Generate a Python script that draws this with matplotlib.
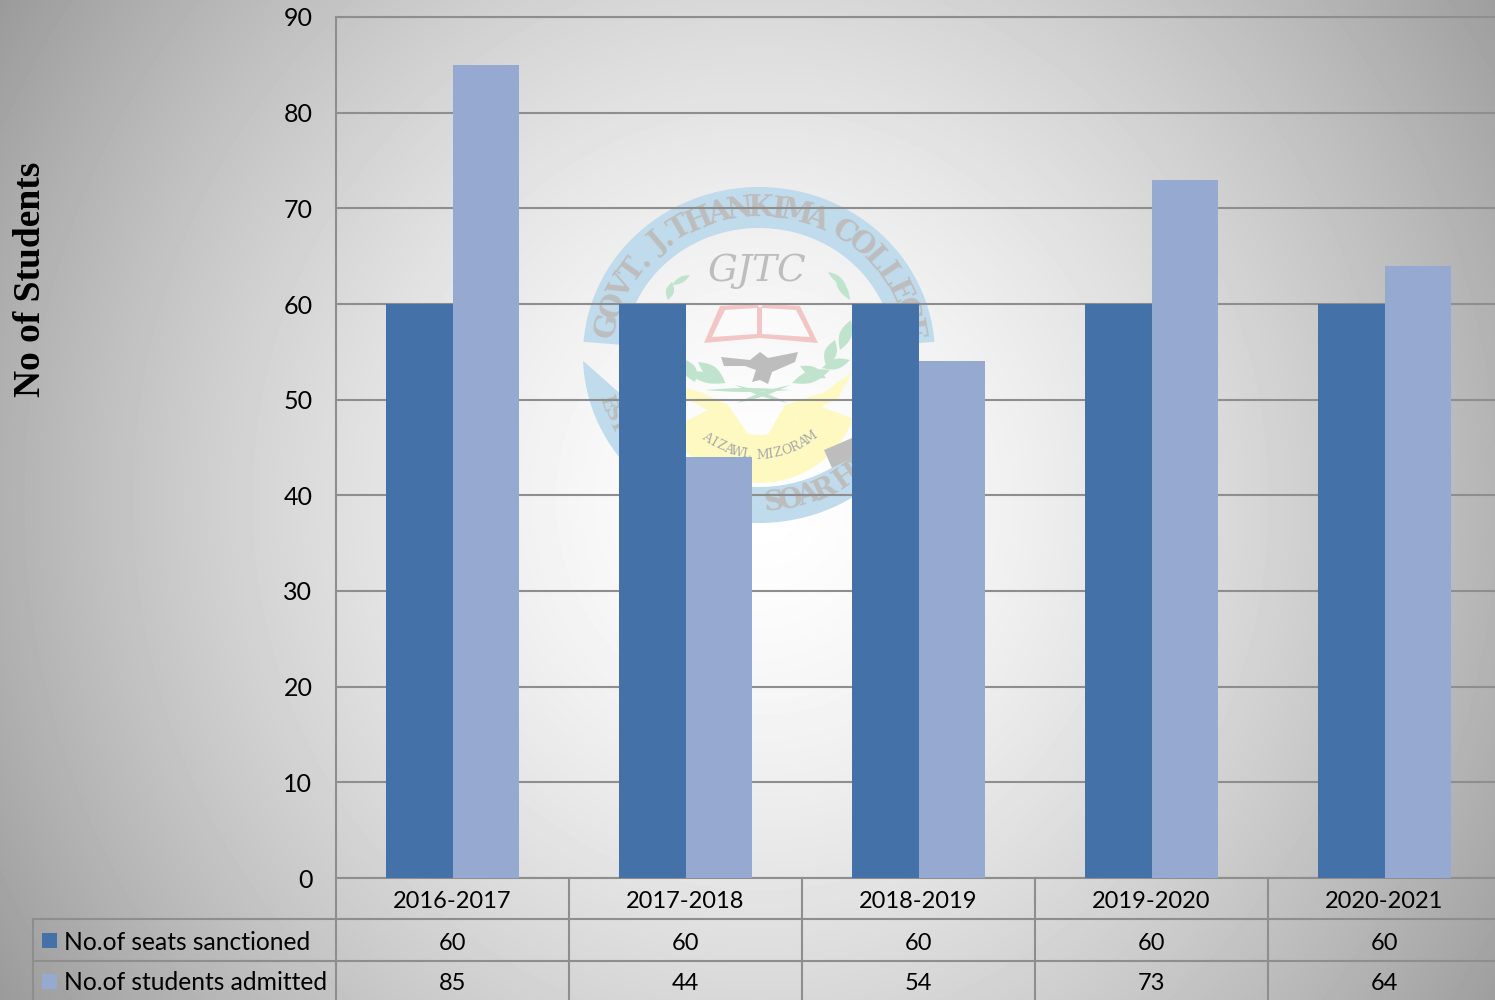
import numpy as np
import matplotlib
matplotlib.use('Agg')
import matplotlib.pyplot as plt
from matplotlib.patches import Polygon, Rectangle
from matplotlib.transforms import blended_transform_factory

years = ['2016-2017', '2017-2018', '2018-2019', '2019-2020', '2020-2021']
seats = [60, 60, 60, 60, 60]
admitted = [85, 44, 54, 73, 64]
seats_label = 'No.of seats sanctioned'
admitted_label = 'No.of students admitted'
y_title = 'No of Students'

DARK = '#4472a8'
LIGHT = '#95a9d1'
LINE = '#8e8e8e'
W, H = 1495, 1000
FONT = 'Lato'


def arc_pts(cx, cy, rx, ry, a0, a1):
    t = np.radians(np.linspace(a0, a1, 120))
    return np.c_[cx + rx * np.cos(t), cy - ry * np.sin(t)]


def ring(cx, cy, rx, ry, a0, a1, width, inner_a0=None):
    outer = arc_pts(cx, cy, rx, ry, a0, a1)
    inner = arc_pts(cx, cy, rx - width, ry - width, a0 if inner_a0 is None else inner_a0, a1)
    return np.r_[outer, inner[::-1]]


def arc_text(bg, s, cx, cy, rx, ry, a0, a1, size, color, flip=False, family='DejaVu Serif', weight='bold'):
    # narrow signs take less of the arc than full letters
    adv = np.array([0.45 if ch in ' .,' else 0.7 if ch in 'IJ' else 1.0 for ch in s])
    pos = np.cumsum(adv) - adv / 2
    for ch, f in zip(s, pos / adv.sum()):
        a = a0 + (a1 - a0) * f
        t = np.radians(a)
        rot = a - 90 if not flip else a + 90
        bg.text(cx + rx * np.cos(t), cy - ry * np.sin(t), ch, rotation=rot, ha='center', va='center',
                fontsize=size, color=color, family=family, weight=weight)


def leaf(bg, x0, y0, x1, y1, fat, color):
    p0, p1 = np.array([x0, y0]), np.array([x1, y1])
    n = np.array([-(y1 - y0), x1 - x0]) / np.hypot(x1 - x0, y1 - y0)
    s = np.linspace(0, 1, 20)
    top = p0 + np.outer(s, p1 - p0) + np.outer(np.sin(np.pi * s) * fat, n)
    bot = p0 + np.outer(s, p1 - p0) - np.outer(np.sin(np.pi * s) * fat, n)
    bg.add_patch(Polygon(np.r_[top, bot[::-1]], fc=color, ec='none'))


def draw_logo(bg):
    blue = '#bfdbec'
    grey = '#bdbdbd'
    green = '#bfe3cc'
    yellow = '#fdf9c0'
    pink = '#f3c6c6'
    cx, cy = 759, 355
    bg.add_patch(Polygon(ring(cx, cy, 176, 168, 4.5, 175.5, 41), fc=blue, ec='none'))
    bg.add_patch(Polygon(ring(cx, cy, 176, 168, 182, 325, 36, inner_a0=200), fc=blue, ec='none'))
    arc_text(bg, 'GOVT. J.THANKIMA COLLEGE', cx, cy, 155, 147, 172, 6, 21, grey)
    arc_text(bg, 'EST', cx, cy, 160, 150, 196, 210, 15, grey, flip=True)
    arc_text(bg, 'SOAR HIGH', cx, cy, 155, 148, 272, 326, 20, grey, flip=True)
    # yellow crescent and antlers
    bg.add_patch(Polygon(ring(cx, 385, 100, 98, 207, 340, 48), fc=yellow, ec='none'))
    bg.add_patch(Polygon([[685, 398], [712, 412], [735, 440], [752, 440], [728, 405], [700, 392], [685, 388]],
                         fc=yellow, ec='none'))
    bg.add_patch(Polygon([[852, 372], [838, 398], [795, 420], [782, 440], [765, 440], [785, 405], [825, 392]],
                         fc=yellow, ec='none'))
    arc_text(bg, 'AIZAWL  MIZORAM', cx, 360, 90, 95, 232, 308, 9, '#a9a9a9', flip=True, weight='normal')
    bg.add_patch(Polygon([[824, 450], [852, 438], [852, 458], [832, 468]], fc=grey, ec='none'))
    # book
    bg.add_patch(Polygon([[704, 343], [720, 306], [757, 304], [760, 308], [764, 304], [800, 306], [818, 343],
                          [760, 338]], fc=pink, ec='none'))
    bg.add_patch(Polygon([[712, 337], [725, 310], [757, 308], [757, 334]], fc='#fafafa', ec='none'))
    bg.add_patch(Polygon([[762, 334], [762, 308], [796, 310], [810, 337]], fc='#fafafa', ec='none'))
    # bird
    bg.add_patch(Polygon([[721, 357], [750, 360], [760, 352], [768, 358], [798, 352], [795, 362], [772, 372],
                          [768, 384], [760, 380], [752, 382], [756, 370], [745, 366], [724, 366]],
                         fc=grey, ec='none'))
    # laurels
    for x0, y0, x1, y1, fat in [(686, 360, 695, 382, 6), (686, 372, 726, 383, 5), (698, 362, 725, 382, 6),
                                (705, 390, 790, 390, 2), (792, 383, 830, 370, 6), (800, 366, 826, 378, 5),
                                (822, 368, 850, 360, 5), (826, 366, 835, 340, 6), (840, 350, 851, 320, 6),
                                (835, 276, 850, 300, 4), (828, 272, 846, 285, 3), (668, 300, 672, 282, 4),
                                (672, 285, 690, 275, 3), (737, 403, 790, 385, 2), (735, 385, 788, 403, 2)]:
        leaf(bg, x0, y0, x1, y1, fat, green)
    bg.text(757, 271, 'GJTC', ha='center', va='center', fontsize=27, color=grey, family='DejaVu Serif',
            style='italic')


fig = plt.figure(figsize=(W / 100, H / 100), dpi=100)

# backdrop gradient and watermark
bg = fig.add_axes([0, 0, 1, 1], zorder=0)
yy, xx = np.mgrid[0:H, 0:W]
rr = np.hypot((xx - 760) / 860, (yy - 500) / 900)
shade = np.clip(1.0 - 0.37 * rr ** 1.5, 0, 1)
bg.imshow(shade, cmap='gray', vmin=0, vmax=1, extent=[0, W, H, 0], aspect='auto', zorder=0)
bg.set_xlim(0, W)
bg.set_ylim(H, 0)
bg.axis('off')
draw_logo(bg)

# chart: category slots are 233 px wide, the last one runs past the right edge
ax = fig.add_axes([336 / W, 1 - 878 / H, 1165 / W, 861 / H], zorder=1)
ax.patch.set_alpha(0)
x = np.arange(len(years))
bar_w = 0.2855
ax.bar(x - bar_w / 2, seats, bar_w, color=DARK, zorder=3)
ax.bar(x + bar_w / 2, admitted, bar_w, color=LIGHT, zorder=3)
ax.set_xlim(-0.5, 4.5)
ax.set_ylim(0, 90)
ax.set_yticks(range(0, 91, 10))
ax.grid(axis='y', color=LINE, linewidth=1.5, zorder=1)
ax.set_axisbelow(True)
ax.set_xticks(x)
ax.set_xticklabels(years)
ax.tick_params(axis='x', length=0, pad=9, labelsize=17, labelfontfamily=FONT, colors='black')
ax.tick_params(axis='y', length=0, pad=17, labelsize=18, labelfontfamily=FONT, colors='black')
for side, sp in ax.spines.items():
    sp.set_color(LINE)
    sp.set_linewidth(1.5)
ax.spines['right'].set_visible(False)

# data table below the axis
tab = fig.add_axes([0, 0, 1, 1], zorder=2)
tab.set_xlim(0, W)
tab.set_ylim(H, 0)
tab.axis('off')
for k in range(6):
    xp = 336 + 233 * k
    tab.plot([xp, xp], [878, H], color=LINE, lw=1.5)
tab.plot([33, W], [919, 919], color=LINE, lw=1.5)
tab.plot([33, W], [961, 961], color=LINE, lw=1.5)
tab.plot([33, 33], [919, H], color=LINE, lw=1.5)

to_data = blended_transform_factory(ax.transData, tab.transData)
for i in x:
    tab.text(i, 943, str(seats[i]), transform=to_data, ha='center', va='center', fontsize=17, family=FONT)
    tab.text(i, 984, str(admitted[i]), transform=to_data, ha='center', va='center', fontsize=17, family=FONT)
tab.add_patch(Rectangle((42, 933), 15, 15, fc=DARK, ec='none'))
tab.add_patch(Rectangle((42, 974), 15, 15, fc=LIGHT, ec='none'))
tab.text(64, 942, seats_label, ha='left', va='center', fontsize=17.7, family=FONT)
tab.text(64, 983, admitted_label, ha='left', va='center', fontsize=17.7, family=FONT)

tab.text(31, 279, y_title, rotation=90, ha='center', va='center', fontsize=27, weight='bold',
         family='Liberation Serif')

fig.savefig('out.png', dpi=100)
